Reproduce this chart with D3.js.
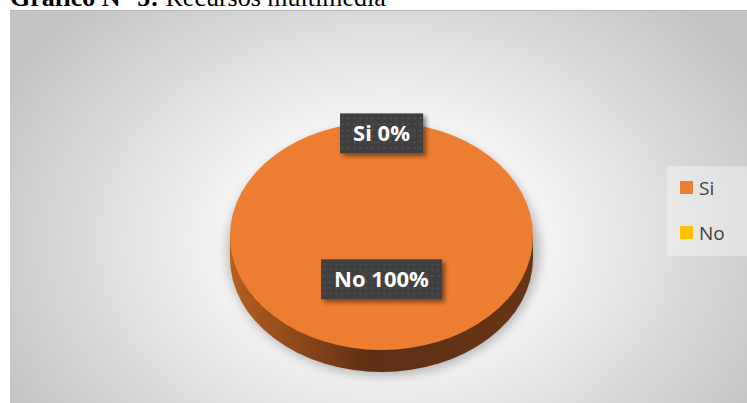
<!DOCTYPE html>
<html><head><meta charset="utf-8">
<script src="https://cdn.jsdelivr.net/npm/d3@7"></script>
<style>
html,body{margin:0;padding:0;background:#fff;overflow:hidden;}
svg{display:block;}
</style></head>
<body>
<script>
const categories = ["Si", "No"];
const values = [0, 100];
const percentLabels = ["0%", "100%"];
const legendColors = ["#ED7D31", "#FFC000"];
const sliceColors = ["#ED7D31", "#ED7D31"];
const titleBold = "Gráfico N° 5:";
const titleRest = " Recursos multimedia";

const W = 747, H = 403;
const svg = d3.select("body").append("svg").attr("width", W).attr("height", H);
const defs = svg.append("defs");

// background gradient
const bg = defs.append("radialGradient").attr("id","bg")
  .attr("gradientUnits","userSpaceOnUse").attr("cx",385).attr("cy",240).attr("r",430)
  .attr("gradientTransform","translate(385,240) scale(1,0.75) translate(-385,-240)");
bg.append("stop").attr("offset","0.22").attr("stop-color","#ffffff");
bg.append("stop").attr("offset","1").attr("stop-color","#c4c4c4");

const side = defs.append("linearGradient").attr("id","side")
  .attr("x1",0).attr("x2",1).attr("y1",0).attr("y2",0);
side.append("stop").attr("offset","0").attr("stop-color","#b2601f");
side.append("stop").attr("offset","0.25").attr("stop-color","#8a4519");
side.append("stop").attr("offset","0.45").attr("stop-color","#5f3014");
side.append("stop").attr("offset","1").attr("stop-color","#663515");

const blur = defs.append("filter").attr("id","blur").attr("x","-20%").attr("y","-20%").attr("width","140%").attr("height","140%");
blur.append("feGaussianBlur").attr("stdDeviation",6);
const sh = defs.append("filter").attr("id","lblsh").attr("x","-20%").attr("y","-20%").attr("width","150%").attr("height","160%");
sh.append("feDropShadow").attr("dx",3).attr("dy",3).attr("stdDeviation",2).attr("flood-color","#000").attr("flood-opacity",0.45);

const pat = defs.append("pattern").attr("id","dots").attr("width",6).attr("height",6).attr("patternUnits","userSpaceOnUse");
pat.append("rect").attr("width",6).attr("height",6).attr("fill","#404040");
pat.append("rect").attr("x",2).attr("y",2).attr("width",1.5).attr("height",1.5).attr("fill","#5c5c5c");

// title (partially cut off at top, as in the reference)
const title = svg.append("text").attr("x",10).attr("y",6)
  .attr("font-family","'Liberation Serif','Times New Roman',serif").attr("font-size",26).attr("fill","#000");
title.append("tspan").attr("font-weight","bold").text(titleBold);
title.append("tspan").text(titleRest);

// chart area
svg.append("rect").attr("x",10).attr("y",10).attr("width",W-10).attr("height",H-10).attr("fill","url(#bg)");
svg.append("line").attr("x1",10).attr("x2",W).attr("y1",10.5).attr("y2",10.5).attr("stroke","#b5b5b5").attr("stroke-width",1);

// pie
const cx = 381.5, cy = 236, rx = 151.5, ry = 114, depth = 22;
const pie = d3.pie().sort(null).value(d => d);
const arcs = pie(values);
const arc = d3.arc().innerRadius(0).outerRadius(rx);
const k = ry / rx;

// shadow
svg.append("ellipse").attr("cx",cx+2).attr("cy",cy+depth/2+4).attr("rx",rx+4).attr("ry",ry+10)
  .attr("fill","#000").attr("opacity",0.28).attr("filter","url(#blur)");

// side
const sideG = svg.append("g");
sideG.selectAll("path.bottom").data(arcs).join("path")
  .attr("transform",`translate(${cx},${cy+depth}) scale(1,${k})`)
  .attr("d",arc).attr("fill","url(#side)");
sideG.append("rect").attr("x",cx-rx).attr("y",cy).attr("width",2*rx).attr("height",depth).attr("fill","url(#side)");

// top
svg.append("g").selectAll("path").data(arcs).join("path")
  .attr("transform",`translate(${cx},${cy}) scale(1,${k})`)
  .attr("d",arc).attr("fill",(d,i)=>sliceColors[i]);

// labels
const labelPos = [0.9, 0.38];
const lg = svg.append("g");
arcs.forEach((a,i) => {
  const mid = (a.startAngle + a.endAngle)/2;
  const r = rx*labelPos[i];
  const x = cx + Math.sin(mid)*r;
  const y = cy - Math.cos(mid)*r*k;
  const g = lg.append("g").attr("transform",`translate(${x},${y})`);
  const t = g.append("text").attr("text-anchor","middle").attr("dy","0.36em")
    .attr("font-family","'Open Sans',sans-serif").attr("font-weight","bold").attr("font-size",22)
    .attr("fill","#fff").text(categories[i] + " " + percentLabels[i]);
  const bb = t.node().getBBox();
  g.insert("rect","text").attr("x",bb.x-13).attr("y",-20).attr("width",bb.width+26).attr("height",40)
    .attr("fill","url(#dots)").attr("filter","url(#lblsh)");
});

// legend
const leg = svg.append("g");
leg.append("rect").attr("x",667).attr("y",166).attr("width",W-667).attr("height",90).attr("fill","#ffffff").attr("opacity",0.35);
categories.forEach((c,i) => {
  const y0 = 181 + i*45;
  leg.append("rect").attr("x",680).attr("y",y0).attr("width",13).attr("height",13).attr("fill",legendColors[i]);
  leg.append("text").attr("x",699).attr("y",y0+14).attr("font-family","'Open Sans',sans-serif")
    .attr("font-size",19).attr("fill","#404040").text(c);
});
</script>
</body></html>
